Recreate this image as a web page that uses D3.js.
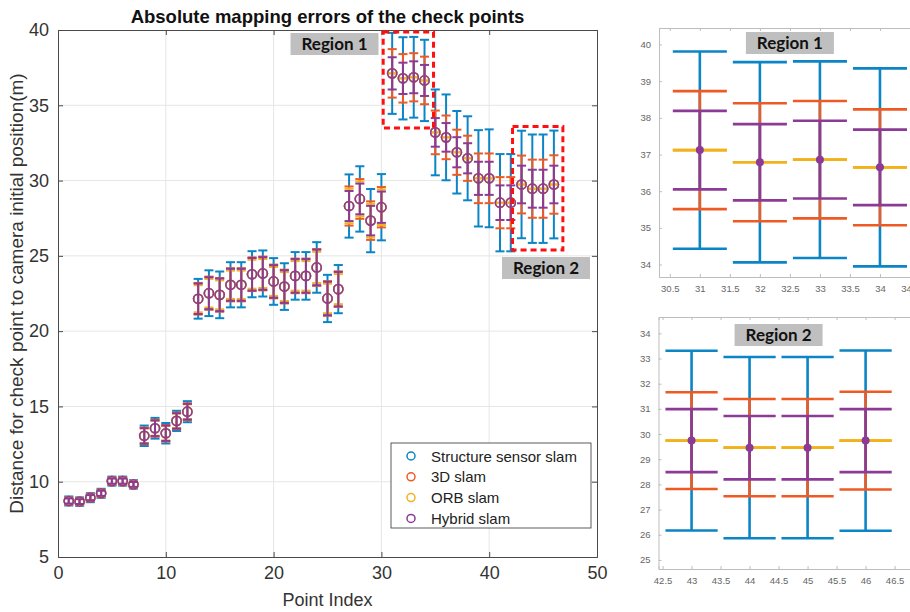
<!DOCTYPE html>
<html>
<head>
<meta charset="utf-8">
<script src="https://cdn.jsdelivr.net/npm/d3@7"></script>
<style>
  body { margin: 0; background: #fff; }
  svg { display: block; font-family: "Liberation Sans", Arial, sans-serif; }
</style>
</head>
<body>
<script>
'use strict';

// check point index 1..46
let pointIndex = d3.range(1, 47);

// distance of each check point (m), shared centre of all four error bars
let pointMean = [
  8.72, 8.68, 8.94, 9.23, 10.04, 10.04, 9.82,
  13.05, 13.55, 13.22, 14.04, 14.65,
  22.15, 22.52, 22.41, 23.08, 23.08, 23.78, 23.83, 23.30, 22.96, 23.67, 23.67, 24.23, 22.17, 22.79,
  28.31, 28.78, 27.34, 28.23,
  37.12, 36.79, 36.86, 36.65,
  33.20, 32.87, 31.88, 31.48, 30.15, 30.15, 28.53, 28.53,
  29.74, 29.46, 29.46, 29.74
];

// half error (m) per method
let sensorErr = [
  0.30, 0.28, 0.30, 0.30, 0.30, 0.30, 0.28,
  0.68, 0.69, 0.68, 0.67, 0.70,
  1.32, 1.52, 1.55, 1.50, 1.50, 1.53, 1.53, 1.55, 1.55, 1.58, 1.58, 1.68, 1.57, 1.60,
  2.10, 2.17, 2.10, 2.20,
  2.69, 2.73, 2.68, 2.70,
  2.85, 2.85, 2.74, 2.79, 3.20, 3.25, 3.23, 3.23,
  3.57, 3.60, 3.60, 3.58
];
let slam3dErr = [
  0.24, 0.22, 0.24, 0.24, 0.24, 0.24, 0.22,
  0.55, 0.56, 0.55, 0.55, 0.56,
  1.05, 1.10, 1.12, 1.10, 1.10, 1.12, 1.12, 1.12, 1.12, 1.15, 1.15, 1.22, 1.15, 1.18,
  1.30, 1.32, 1.28, 1.34,
  1.61, 1.61, 1.60, 1.58,
  1.45, 1.45, 1.50, 1.50, 1.65, 1.65, 1.70, 1.70,
  1.92, 1.93, 1.93, 1.94
];
let orbErr = [
  0.20, 0.19, 0.20, 0.20, 0.20, 0.20, 0.19,
  0.48, 0.49, 0.48, 0.48, 0.49,
  0.90, 0.95, 0.96, 0.94, 0.94, 0.96, 0.96, 0.96, 0.96, 0.98, 0.98, 1.04, 0.98, 1.00,
  1.15, 1.16, 1.12, 1.18,
  0, 0, 0, 0,
  0, 0, 0, 0, 0, 0, 0, 0,
  0, 0, 0, 0
];
let hybridErr = [
  0.17, 0.16, 0.17, 0.17, 0.17, 0.17, 0.16,
  0.51, 0.52, 0.51, 0.51, 0.52,
  1.01, 1.06, 1.08, 1.06, 1.06, 1.08, 1.08, 1.08, 1.08, 1.11, 1.11, 1.18, 1.11, 1.14,
  1.00, 1.02, 0.98, 1.04,
  1.07, 1.04, 1.06, 1.03,
  0.95, 0.95, 1.00, 1.00, 1.10, 1.10, 1.15, 1.15,
  1.25, 1.26, 1.26, 1.25
];

let seriesNames = ['Structure sensor slam', '3D slam', 'ORB slam', 'Hybrid slam'];
let seriesErrors = [sensorErr, slam3dErr, orbErr, hybridErr];
let seriesColors = ['#0b85c5', '#ee5a24', '#f2b21c', '#8b3a95'];

let xTicks = [0, 10, 20, 30, 40, 50];
let yTicks = [5, 10, 15, 20, 25, 30, 35, 40];

let region1Points = [31, 32, 33, 34];
let region2Points = [43, 44, 45, 46];
let region1XTicks = [30.5, 31, 31.5, 32, 32.5, 33, 33.5, 34, 34.5];
let region1YTicks = [34, 35, 36, 37, 38, 39, 40];
let region2XTicks = [42.5, 43, 43.5, 44, 44.5, 45, 45.5, 46, 46.5];
let region2YTicks = [25, 26, 27, 28, 29, 30, 31, 32, 33, 34];

let width = 910;
let height = 612;
let axisColor = '#4a4a4a';
let gridColor = '#e6e6e6';

let svg = d3.select('body').append('svg')
    .attr('width', width)
    .attr('height', height);

// one row per point and method
let bars = [];
seriesNames.forEach((name, s) => {
  pointIndex.forEach((p, i) => {
    bars.push({series: s, x: p, mean: pointMean[i], err: seriesErrors[s][i]});
  });
});

// ---------- main chart ----------
let x = d3.scaleLinear().domain([0, 50]).range([58, 597]);
let y = d3.scaleLinear().domain([5, 40]).range([557, 30]);

let main = svg.append('g');

main.append('g').selectAll('line.vgrid')
  .data(xTicks.slice(1, -1))
  .enter().append('line')
    .attr('x1', d => x(d)).attr('x2', d => x(d))
    .attr('y1', y(5)).attr('y2', y(40))
    .attr('stroke', gridColor);
main.append('g').selectAll('line.hgrid')
  .data(yTicks.slice(1, -1))
  .enter().append('line')
    .attr('x1', x(0)).attr('x2', x(50))
    .attr('y1', d => y(d)).attr('y2', d => y(d))
    .attr('stroke', gridColor);

let drawAxes = function(g, xs, ys, xt, yt, opts) {
  let [x0, x1] = xs.range();
  let [y0, y1] = ys.range();
  let bottom = g.append('g')
    .attr('transform', `translate(0,${y0})`)
    .call(d3.axisBottom(xs).tickValues(xt).tickSize(-opts.tick).tickPadding(opts.pad + opts.tick).tickFormat(d3.format('')));
  let left = g.append('g')
    .attr('transform', `translate(${x0},0)`)
    .call(d3.axisLeft(ys).tickValues(yt).tickSize(-opts.tick).tickPadding(opts.pad + opts.tick).tickFormat(d3.format('')));
  let top = g.append('g')
    .attr('transform', `translate(0,${y1})`)
    .call(d3.axisTop(xs).tickValues(xt).tickSize(-opts.tick).tickFormat(''));
  let right = g.append('g')
    .attr('transform', `translate(${x1},0)`)
    .call(d3.axisRight(ys).tickValues(yt).tickSize(-opts.tick).tickFormat(''));
  [bottom, left, top, right].forEach(a => {
    a.select('.domain').attr('stroke', opts.color);
    a.selectAll('.tick line').attr('stroke', opts.color);
    a.selectAll('.tick text')
      .attr('fill', opts.text)
      .style('font-size', opts.font + 'px');
  });
};

drawAxes(main, x, y, xTicks, yTicks, {tick: 5, pad: 4, color: axisColor, text: '#333', font: 18});

let capHalf = 0.42;

let drawBars = function(g, xs, ys, half, lineWidth, withCircle) {
  let grp = g.selectAll('g.series')
    .data(seriesNames)
    .enter().append('g')
      .attr('stroke', (d, s) => seriesColors[s])
      .attr('stroke-width', lineWidth)
      .attr('fill', 'none');
  grp.each(function(name, s) {
    let rows = bars.filter(b => b.series === s && xs.domain()[0] < b.x && b.x < xs.domain()[1]);
    let sel = d3.select(this).selectAll('g.bar').data(rows).enter().append('g');
    sel.append('line')
      .attr('x1', d => xs(d.x)).attr('x2', d => xs(d.x))
      .attr('y1', d => ys(d.mean - d.err)).attr('y2', d => ys(d.mean + d.err));
    sel.append('line')
      .attr('x1', d => xs(d.x - half)).attr('x2', d => xs(d.x + half))
      .attr('y1', d => ys(d.mean + d.err)).attr('y2', d => ys(d.mean + d.err));
    sel.append('line')
      .attr('x1', d => xs(d.x - half)).attr('x2', d => xs(d.x + half))
      .attr('y1', d => ys(d.mean - d.err)).attr('y2', d => ys(d.mean - d.err));
    if (withCircle) {
      sel.append('circle')
        .attr('cx', d => xs(d.x)).attr('cy', d => ys(d.mean))
        .attr('r', 4.6)
        .attr('stroke-width', 1.5);
    }
  });
};

drawBars(main, x, y, capHalf, 2, true);

// red dashed boxes round the two zoomed regions
let regionBox = function(pts) {
  let idx = pts.map(p => pointIndex.indexOf(p));
  let hi = d3.max(idx, i => pointMean[i] + sensorErr[i]);
  let lo = d3.min(idx, i => pointMean[i] - sensorErr[i]);
  return {
    x0: x(d3.min(pts)) - 9, x1: x(d3.max(pts)) + 9,
    y0: Math.max(y(hi) - 4, y(40) + 2), y1: y(lo) + 7
  };
};
[region1Points, region2Points].forEach(pts => {
  let b = regionBox(pts);
  main.append('rect')
    .attr('x', b.x0).attr('y', b.y0)
    .attr('width', b.x1 - b.x0).attr('height', b.y1 - b.y0)
    .attr('fill', 'none')
    .attr('stroke', '#ff1010')
    .attr('stroke-width', 3)
    .attr('stroke-dasharray', '6,4');
});

let regionLabel = function(g, cx, top, label) {
  let w = 88, h = 22;
  g.append('rect')
    .attr('x', cx - w / 2).attr('y', top)
    .attr('width', w).attr('height', h)
    .attr('fill', '#bfbfbf');
  g.append('text')
    .attr('x', cx).attr('y', top + h / 2 + 6)
    .attr('text-anchor', 'middle')
    .style('font-family', 'Lato, "Open Sans", sans-serif')
    .style('font-weight', 'bold')
    .style('font-size', '17px')
    .attr('fill', '#111')
    .text(label);
};
regionLabel(main, 334.5, 33, 'Region 1');
regionLabel(main, 546, 257, 'Region 2');

// legend
let legend = main.append('g').attr('transform', 'translate(391,443)');
legend.append('rect')
  .attr('width', 200).attr('height', 85)
  .attr('fill', '#fff')
  .attr('stroke', '#333')
  .attr('stroke-width', 0.8);
let entry = legend.selectAll('g.entry')
  .data(seriesNames)
  .enter().append('g')
    .attr('transform', (d, i) => `translate(0,${13 + i * 20.8})`);
entry.append('circle')
  .attr('cx', 20).attr('r', 4)
  .attr('fill', 'none')
  .attr('stroke', (d, i) => seriesColors[i])
  .attr('stroke-width', 1.5);
entry.append('text')
  .attr('x', 40).attr('y', 5.5)
  .style('font-size', '15px')
  .attr('fill', '#222')
  .text(d => d);

// titles
svg.append('text')
  .attr('x', (x(0) + x(50)) / 2).attr('y', 23)
  .attr('text-anchor', 'middle')
  .style('font-weight', 'bold')
  .style('font-size', '18.5px')
  .attr('fill', '#111')
  .text('Absolute mapping errors of the check points');
svg.append('text')
  .attr('x', (x(0) + x(50)) / 2).attr('y', 606)
  .attr('text-anchor', 'middle')
  .style('font-size', '18px')
  .attr('fill', '#333')
  .text('Point Index');
svg.append('text')
  .attr('transform', `translate(23,${(y(5) + y(40)) / 2}) rotate(-90)`)
  .attr('text-anchor', 'middle')
  .style('font-size', '19px')
  .attr('fill', '#333')
  .text('Distance for check point to camera initial position(m)');

// ---------- zoomed insets ----------
let inset = function(xDomain, xRange, yDomain, yRange, xt, yt, label, labelX, labelTop) {
  let xs = d3.scaleLinear().domain(xDomain).range(xRange);
  let ys = d3.scaleLinear().domain(yDomain).range(yRange);
  let g = svg.append('g');
  g.append('rect')
    .attr('x', xRange[0]).attr('y', yRange[1])
    .attr('width', xRange[1] - xRange[0]).attr('height', yRange[0] - yRange[1])
    .attr('fill', '#fff');
  drawAxes(g, xs, ys, xt, yt, {tick: 3, pad: 5, color: '#bdbdbd', text: '#666', font: 9.5});
  drawBars(g, xs, ys, 0.45, 2.6, false);
  g.append('g').selectAll('circle')
    .data(bars.filter(b => b.series === 3 && xDomain[0] < b.x && b.x < xDomain[1]))
    .enter().append('circle')
      .attr('cx', d => xs(d.x)).attr('cy', d => ys(d.mean))
      .attr('r', 4)
      .attr('fill', seriesColors[3]);
  regionLabel(g, xs(labelX), labelTop, label);
};

inset([30.32, 34.7], [659, 922], [33.66, 40.45], [277, 28],
  region1XTicks, region1YTicks, 'Region 1', 32.5, 32);
inset([42.43, 46.85], [658.5, 914.9], [24.64, 34.65], [569, 317],
  region2XTicks, region2YTicks, 'Region 2', 44.5, 324);
</script>
</body>
</html>
